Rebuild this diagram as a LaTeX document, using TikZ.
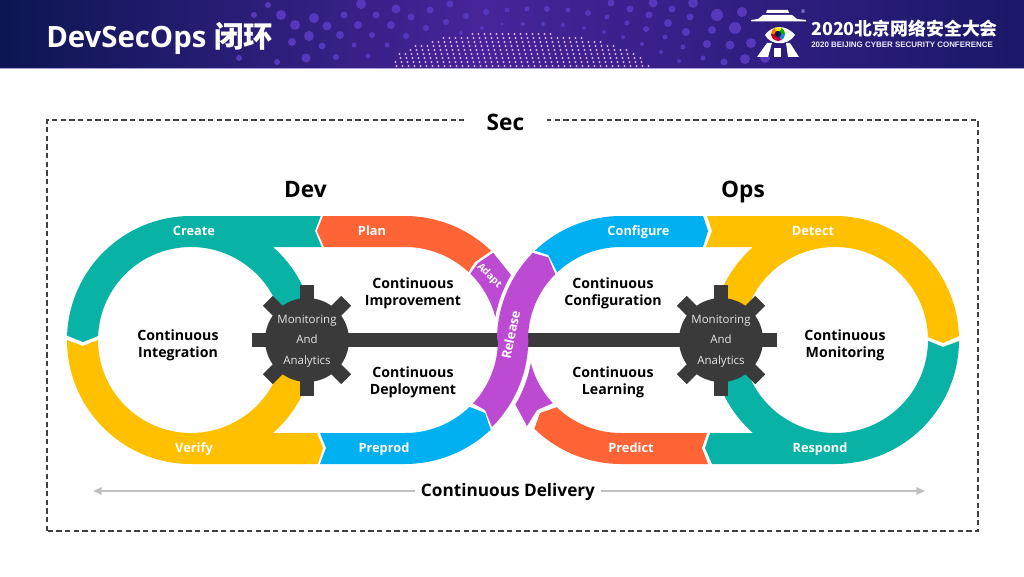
\documentclass[tikz,border=0pt]{standalone}
\usepackage{fontspec}
\setmainfont{Open Sans}
\newfontfamily\cjkfont{Noto Sans CJK SC}
\newfontfamily\logofont{Liberation Sans}
\usetikzlibrary{positioning,arrows.meta,calc}
\definecolor{tealband}{HTML}{08B2A5}
\definecolor{yellowband}{HTML}{FFC000}
\definecolor{orangeband}{HTML}{FF6437}
\definecolor{blueband}{HTML}{00B0F0}
\definecolor{purpleband}{HTML}{BD4AD3}
\definecolor{geardark}{HTML}{3A3A3A}
\definecolor{bannerleft}{HTML}{0C1652}
\definecolor{bannermid}{HTML}{47249A}
\definecolor{bannerright}{HTML}{1A1868}
\definecolor{bannerdot}{HTML}{5638BC}
\definecolor{globedot}{HTML}{E0A8E8}
\newcommand{\Ro}{124}
\newcommand{\Ri}{93}
\begin{document}
\begin{tikzpicture}[x=0.75pt, y=0.75pt,
  bandlabel/.style={font=\fontsize{9.6}{12}\selectfont\bfseries, text=white, text height=1.5ex, text depth=0.45ex},
  looplabel/.style={font=\fontsize{10.6}{13}\selectfont\bfseries, align=center, text=black},
  headlabel/.style={font=\fontsize{17}{20}\selectfont\bfseries, text=black, anchor=base},
  gearlabel/.style={font=\fontsize{8.6}{15.4}\selectfont, align=center, text=white!90!black, inner sep=0pt},
  deliveryline/.style={-{Triangle[length=6.5pt,width=5.5pt]}, line width=1.4pt, black!25}]
\useasboundingbox (0,0) rectangle (1024,576);
\fill[white] (0,0) rectangle (1024,576);

% banner
\begin{scope}
\clip (0,508) rectangle (1024,576);
\shade[left color=bannerleft, right color=bannermid] (0,508) rectangle (480,576);
\shade[left color=bannermid, right color=bannerright] (480,508) rectangle (1024,576);
\foreach \x/\y/\r in {361/4/5,376/15/3.5,396/9/4.5,411/17/3.5,430/10/3.5,446/22/3,450/4/3.5,466/16/3,486/12/3,
  507/10/2.5,527/9/2.5,547/9/3,568/10/2.5,588/13/3,607/17/2.5,611/3/3.5,630/9/3.5,649/15/3.5,653/3/4.5,672/9/3.5,
  668/23/4,690/17/3.5,686/32/4,693/3/5,627/23/2.5,646/29/3,665/37/2.5,683/47/2.5,679/61/2,661/52/2,642/44/2,
  623/37/2,604/32/2,584/28/2,563/25/2,543/24/2,523/24/2,502/24/1.5,482/28/2,461/33/2,426/28/3,406/36/3,391/25/4,
  358/25/4,372/35/3,340/35/4,327/26/4.5,314/18/5,344/15/3.5,309/36/5,322/46/3.5,354/45/2.5,387/45/2.5,306/58/4.5,
  336/57/3,368/56/2.5,281/15/5,295/25/5,292/42/4,277/62/3,268/5/3,239/58/3,254/15/3,717/15/6,742/12/5,712/30/4,
  735/28/6,707/44/4,730/45/4.5,751/43/5,703/58/2.5,724/62/3.5,745/59/5,765/58/5}
  \fill[bannerdot] (\x,576-\y) circle (\r);
\foreach \y in {34,38,...,66} {
  \pgfmathsetmacro{\halfw}{128*sqrt(1-((68-\y)/36)^2)}
  \foreach \k in {-21,...,21} {
    \pgfmathtruncatemacro{\inside}{abs(\k*6+mod(\y,8)/2)<\halfw ? 1 : 0}
    \ifnum\inside=1
      \fill[globedot] (518+\k*6+\y/4-12,576-\y) circle (1.05);
    \fi
  }
}
\end{scope}
\draw[line width=0.8pt, bannermid!45!white] (0,507.5) -- (1024,507.5);
\node[font=\fontsize{22}{26}\selectfont\bfseries, text=white, anchor=west, inner sep=0pt] (title) at (46,538) {DevSecOps {\cjkfont 闭环}};

% logo
\fill[white] (767,566) -- (788,566) -- (789,563) -- (766,563) -- cycle;
\fill[white] (763,561) -- (792,561) -- (797,557) -- (806,556) -- (806,554.5) -- (751,554.5) -- (751,556) -- (758,557) -- cycle;
\fill[white] (765,541) .. controls (771,550) and (785,553) .. (795,541) .. controls (788,530) and (771,530) .. (765,541) -- cycle;
\fill[white] (757,519) -- (768,519) -- (772,533) -- (767,533) -- cycle;
\fill[white] (774,528) -- (781,528) -- (781,519) -- (774,519) -- cycle;
\fill[white] (786,533) -- (790,533) -- (799,519) -- (788,519) -- cycle;
\foreach \a/\c in {0/green!70!black,60/yellow!90!orange,120/orange,180/red!80!black,240/purple,300/cyan!70!blue}
  \fill[\c] (778,542) -- ++(\a:7) arc[start angle=\a,end angle=\a+60,radius=7] -- cycle;
\fill[bannerleft] (778,542) circle (3.2);
\node[text=white!75!blue, font=\fontsize{4}{4}\selectfont, inner sep=0pt] (regmark) at (803,564) {®};
\node[font=\fontsize{13.4}{16}\selectfont\cjkfont\bfseries, text=white, anchor=west, inner sep=0pt] (confname) at (811,547) {2020北京网络安全大会};
\node[font=\fontsize{5.95}{6}\selectfont\logofont\bfseries, text=white!92!blue, anchor=west, inner sep=0pt] (confsub) at (811,531) {2020 BEIJING CYBER SECURITY CONFERENCE};

% sec frame
\draw[dashed, dash pattern=on 4pt off 2.5pt, line width=0.8pt, black!75] (47,45) rectangle (978,456);
\node[headlabel, fill=white, inner xsep=17pt, inner ysep=1pt] (sec) at (505.5,445.5) {Sec};
\node[headlabel] (dev) at (305.5,378.5) {Dev};
\node[headlabel] (ops) at (743,378.5) {Ops};

% loop centres
\coordinate (cA) at (191,236);
\coordinate (cB) at (405,236);
\coordinate (cC) at (621,236);
\coordinate (cD) at (835,236);
\coordinate (gearL) at (307,236);
\coordinate (gearR) at (721,236);

% left loop
\fill[tealband] ($(cA)+(178:\Ro)$) arc[start angle=178,end angle=90,radius=\Ro] -- (320.7,360) -- (315,345) -- (321.7,329)
  -- (273,329) arc[start angle=48.6,end angle=18,radius=\Ro] -- ($(cA)+(18:\Ri)$) arc[start angle=18,end angle=177.5,radius=\Ri] -- (83,234) -- cycle;
\fill[yellowband] ($(cA)+(180:\Ro)$) arc[start angle=180,end angle=270,radius=\Ro] -- (318,112) -- (323,128) -- (317,143)
  -- (273,143) arc[start angle=-48.6,end angle=-18,radius=\Ro] -- ($(cA)+(-18:\Ri)$) arc[start angle=-18,end angle=-180,radius=\Ri] -- (83,230) -- cycle;
\fill[orangeband] (323,360) -- (405,360) arc[start angle=90,end angle=46,radius=\Ro] -- (475,314) -- ($(cB)+(47:\Ri)$)
  arc[start angle=47,end angle=90,radius=\Ri] -- (324,329) -- (317,345) -- cycle;
\fill[blueband] (320,143) -- (326,128) -- (320,112) -- (405,112) arc[start angle=270,end angle=313.7,radius=\Ro] -- (485,163) -- ($(cB)+(-46:\Ri)$)
  arc[start angle=-46,end angle=-90,radius=\Ri] -- cycle;
\fill[purpleband] ($(cB)+(44.7:\Ro)$) -- (511,301) arc[start angle=149.4,end angle=169.6,radius=128]
  arc[start angle=14.3,end angle=45.5,radius=\Ri] -- (478,313) -- cycle;
\node[bandlabel, font=\fontsize{7.5}{9}\selectfont\bfseries, rotate=-45, inner sep=0pt] (adapt) at (490,301) {Adapt};

% right loop
\fill[blueband] ($(cC)+(133.9:\Ro)$) arc[start angle=133.9,end angle=90,radius=\Ro] -- (703,360) -- (708,345) -- (703,329) -- (621,329)
  arc[start angle=90,end angle=133.3,radius=\Ri] -- (548.3,321) -- cycle;
\fill[orangeband] ($(cC)+(225.7:\Ro)$) arc[start angle=225.7,end angle=270,radius=\Ro] -- (708,112) -- (702,128) -- (707,143) -- (621,143)
  arc[start angle=270,end angle=226.3,radius=\Ri] -- (540,163) -- cycle;
\fill[yellowband] (707,360) -- (712,345) -- (706,329) -- (753,329) arc[start angle=131.4,end angle=162,radius=\Ro] -- ($(cD)+(162:\Ri)$)
  arc[start angle=162,end angle=1.8,radius=\Ri] -- (943,233) -- ($(cD)+(1.8:\Ro)$) arc[start angle=1.8,end angle=90,radius=\Ro] -- cycle;
\fill[tealband] (710,143) -- (705,128) -- (712,112) -- (835,112) arc[start angle=270,end angle=359.5,radius=\Ro] -- (943,229) -- ($(cD)+(-0.5:\Ri)$)
  arc[start angle=-0.5,end angle=-162,radius=\Ri] -- ($(cD)+(198:\Ro)$) arc[start angle=198,end angle=228.6,radius=\Ro] -- cycle;
\fill[purpleband] ($(cC)+(222.8:\Ri)$) arc[start angle=222.8,end angle=194.3,radius=\Ri]
  arc[start angle=-10.4,end angle=-30.4,radius=128] -- (527,150) -- (537,166) -- cycle;

% shaft and gears
\draw[line width=10.5pt, geardark] (gearL) -- (gearR);
\foreach \g in {gearL,gearR} {
  \fill[geardark] (\g) circle (42);
  \foreach \a in {0,45,...,315}
    \fill[geardark, rotate around={\a:(\g)}] ($(\g)+(-7,0)$) rectangle ($(\g)+(7,55.5)$);
}

% release on top of the shaft
\fill[purpleband] ($(cC)+(135.4:\Ro)$) arc[start angle=135.4,end angle=180,radius=\Ro]
  -- ($(cB)+(0:\Ri)$) arc[start angle=0,end angle=-43,radius=\Ri] -- (485,166) -- (492,149)
  arc[start angle=-45,end angle=0,radius=\Ro] -- ($(cC)+(180:\Ri)$) arc[start angle=180,end angle=135,radius=\Ri] -- (548.3,318.7) -- cycle;
\node[bandlabel, rotate=78, inner sep=0pt] (release) at (511.7,241) {Release};

% band labels
\node[bandlabel] (create) at (194,344.5) {Create};
\node[bandlabel] (plan) at (372,344.5) {Plan};
\node[bandlabel] (configure) at (638.5,344.5) {Configure};
\node[bandlabel] (detect) at (813,344.5) {Detect};
\node[bandlabel] (verify) at (194,127) {Verify};
\node[bandlabel] (preprod) at (384,127) {Preprod};
\node[bandlabel] (predict) at (631,127) {Predict};
\node[bandlabel] (respond) at (820,127) {Respond};

% loop labels
\node[looplabel] (integration) at (178,230.5) {Continuous\\Integration};
\node[looplabel] (improvement) at (413,282.5) {Continuous\\Improvement};
\node[looplabel] (configuration) at (613,282.5) {Continuous\\Configuration};
\node[looplabel] (deployment) at (413,193.5) {Continuous\\Deployment};
\node[looplabel] (learning) at (613,193.5) {Continuous\\Learning};
\node[looplabel] (monitoring) at (845,230.5) {Continuous\\Monitoring};
\node[gearlabel] (analyticsL) at ($(gearL)+(0,-1)$) {Monitoring\\And\\Analytics};
\node[gearlabel] (analyticsR) at ($(gearR)+(0,-1)$) {Monitoring\\And\\Analytics};

% delivery
\coordinate (deliveryL) at (93,85);
\coordinate (deliveryR) at (925,85);
\node[font=\fontsize{12.9}{15}\selectfont\bfseries, text=black, inner xsep=4pt] (delivery) at (508,83.5) {Continuous Delivery};
\draw[deliveryline] (delivery.west |- deliveryL) -- (deliveryL);
\draw[deliveryline] (delivery.east |- deliveryR) -- (deliveryR);
\end{tikzpicture}
\end{document}
